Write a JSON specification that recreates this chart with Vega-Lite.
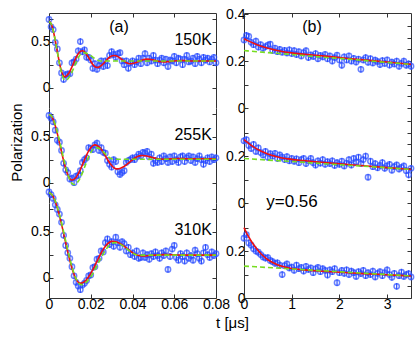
{
"$schema":"https://vega.github.io/schema/vega-lite/v6.json",
"padding":{"left":9,"top":7,"right":4,"bottom":2},
"config":{"font":"Liberation Sans","view":{"stroke":null},
 "axis":{"grid":false,"domainColor":"#333","tickColor":"#333","labelColor":"#000","labelFontSize":14,"labelFont":"Liberation Sans","tickSize":-4,"labelPadding":3,"labelFlush":false,"labelOverlap":false,"titleFont":"Liberation Sans","titleFontSize":15,"titleFontWeight":"normal","titleColor":"#000"}},
"datasets":{
"lab":[
{"b":"L1","k":"c","t":0.0335,"v":0.658,"s":"(a)"},
{"b":"L1","k":"r","t":0.078,"v":0.52,"s":"150K"},
{"b":"L2","k":"r","t":0.078,"v":0.52,"s":"255K"},
{"b":"L3","k":"r","t":0.078,"v":0.52,"s":"310K"},
{"b":"R1","k":"c","t":1.425,"v":0.345,"s":"(b)"},
{"b":"R2","k":"c","t":1.006,"v":0.004,"s":"y=0.56"}
],
"fit":[
{"b":"L1","m":"r","t":0,"v":0.72},{"b":"L1","m":"r","t":0.001,"v":0.694},{"b":"L1","m":"r","t":0.002,"v":0.621},{"b":"L1","m":"r","t":0.003,"v":0.513},{"b":"L1","m":"r","t":0.004,"v":0.389},{"b":"L1","m":"r","t":0.005,"v":0.27},{"b":"L1","m":"r","t":0.006,"v":0.177},{"b":"L1","m":"r","t":0.007,"v":0.127},{"b":"L1","m":"r","t":0.0075,"v":0.12},{"b":"L1","m":"r","t":0.008,"v":0.122},{"b":"L1","m":"r","t":0.009,"v":0.142},{"b":"L1","m":"r","t":0.010,"v":0.178},{"b":"L1","m":"r","t":0.011,"v":0.226},{"b":"L1","m":"r","t":0.012,"v":0.278},{"b":"L1","m":"r","t":0.013,"v":0.329},{"b":"L1","m":"r","t":0.014,"v":0.369},{"b":"L1","m":"r","t":0.015,"v":0.394},{"b":"L1","m":"r","t":0.016,"v":0.40},{"b":"L1","m":"r","t":0.017,"v":0.388},{"b":"L1","m":"r","t":0.018,"v":0.361},{"b":"L1","m":"r","t":0.019,"v":0.326},{"b":"L1","m":"r","t":0.020,"v":0.287},{"b":"L1","m":"r","t":0.021,"v":0.252},{"b":"L1","m":"r","t":0.022,"v":0.228},{"b":"L1","m":"r","t":0.023,"v":0.22},{"b":"L1","m":"r","t":0.024,"v":0.225},{"b":"L1","m":"r","t":0.025,"v":0.239},{"b":"L1","m":"r","t":0.026,"v":0.26},{"b":"L1","m":"r","t":0.027,"v":0.285},{"b":"L1","m":"r","t":0.028,"v":0.31},{"b":"L1","m":"r","t":0.029,"v":0.331},{"b":"L1","m":"r","t":0.030,"v":0.345},{"b":"L1","m":"r","t":0.031,"v":0.35},{"b":"L1","m":"r","t":0.032,"v":0.347},{"b":"L1","m":"r","t":0.033,"v":0.337},{"b":"L1","m":"r","t":0.034,"v":0.322},{"b":"L1","m":"r","t":0.035,"v":0.305},{"b":"L1","m":"r","t":0.036,"v":0.288},{"b":"L1","m":"r","t":0.037,"v":0.273},{"b":"L1","m":"r","t":0.038,"v":0.263},{"b":"L1","m":"r","t":0.039,"v":0.26},{"b":"L1","m":"r","t":0.041,"v":0.267},{"b":"L1","m":"r","t":0.043,"v":0.285},{"b":"L1","m":"r","t":0.045,"v":0.303},{"b":"L1","m":"r","t":0.047,"v":0.31},{"b":"L1","m":"r","t":0.049,"v":0.306},{"b":"L1","m":"r","t":0.051,"v":0.295},{"b":"L1","m":"r","t":0.053,"v":0.284},{"b":"L1","m":"r","t":0.055,"v":0.28},{"b":"L1","m":"r","t":0.057,"v":0.283},{"b":"L1","m":"r","t":0.059,"v":0.288},{"b":"L1","m":"r","t":0.061,"v":0.292},{"b":"L1","m":"r","t":0.063,"v":0.295},{"b":"L1","m":"r","t":0.065,"v":0.294},{"b":"L1","m":"r","t":0.068,"v":0.29},{"b":"L1","m":"r","t":0.072,"v":0.29},{"b":"L1","m":"r","t":0.076,"v":0.29},{"b":"L1","m":"r","t":0.08,"v":0.29},
{"b":"L1","m":"g","t":0,"v":0.72},{"b":"L1","m":"g","t":0.001,"v":0.694},{"b":"L1","m":"g","t":0.002,"v":0.622},{"b":"L1","m":"g","t":0.003,"v":0.513},{"b":"L1","m":"g","t":0.004,"v":0.387},{"b":"L1","m":"g","t":0.005,"v":0.262},{"b":"L1","m":"g","t":0.006,"v":0.16},{"b":"L1","m":"g","t":0.007,"v":0.097},{"b":"L1","m":"g","t":0.0078,"v":0.08},{"b":"L1","m":"g","t":0.009,"v":0.094},{"b":"L1","m":"g","t":0.010,"v":0.125},{"b":"L1","m":"g","t":0.011,"v":0.17},{"b":"L1","m":"g","t":0.012,"v":0.222},{"b":"L1","m":"g","t":0.013,"v":0.275},{"b":"L1","m":"g","t":0.014,"v":0.323},{"b":"L1","m":"g","t":0.015,"v":0.359},{"b":"L1","m":"g","t":0.016,"v":0.378},{"b":"L1","m":"g","t":0.0165,"v":0.38},{"b":"L1","m":"g","t":0.018,"v":0.373},{"b":"L1","m":"g","t":0.020,"v":0.348},{"b":"L1","m":"g","t":0.022,"v":0.315},{"b":"L1","m":"g","t":0.024,"v":0.293},{"b":"L1","m":"g","t":0.025,"v":0.29},{"b":"L1","m":"g","t":0.03,"v":0.29},{"b":"L1","m":"g","t":0.04,"v":0.29},{"b":"L1","m":"g","t":0.05,"v":0.29},{"b":"L1","m":"g","t":0.06,"v":0.29},{"b":"L1","m":"g","t":0.07,"v":0.29},{"b":"L1","m":"g","t":0.08,"v":0.29},
{"b":"L2","m":"r","t":0,"v":0.74},{"b":"L2","m":"r","t":0.001,"v":0.726},{"b":"L2","m":"r","t":0.002,"v":0.684},{"b":"L2","m":"r","t":0.003,"v":0.617},{"b":"L2","m":"r","t":0.004,"v":0.532},{"b":"L2","m":"r","t":0.005,"v":0.435},{"b":"L2","m":"r","t":0.006,"v":0.335},{"b":"L2","m":"r","t":0.007,"v":0.238},{"b":"L2","m":"r","t":0.008,"v":0.152},{"b":"L2","m":"r","t":0.009,"v":0.086},{"b":"L2","m":"r","t":0.010,"v":0.044},{"b":"L2","m":"r","t":0.011,"v":0.03},{"b":"L2","m":"r","t":0.012,"v":0.038},{"b":"L2","m":"r","t":0.013,"v":0.06},{"b":"L2","m":"r","t":0.014,"v":0.096},{"b":"L2","m":"r","t":0.015,"v":0.141},{"b":"L2","m":"r","t":0.016,"v":0.193},{"b":"L2","m":"r","t":0.017,"v":0.247},{"b":"L2","m":"r","t":0.018,"v":0.299},{"b":"L2","m":"r","t":0.019,"v":0.344},{"b":"L2","m":"r","t":0.020,"v":0.38},{"b":"L2","m":"r","t":0.021,"v":0.402},{"b":"L2","m":"r","t":0.022,"v":0.41},{"b":"L2","m":"r","t":0.023,"v":0.404},{"b":"L2","m":"r","t":0.024,"v":0.388},{"b":"L2","m":"r","t":0.025,"v":0.362},{"b":"L2","m":"r","t":0.026,"v":0.329},{"b":"L2","m":"r","t":0.027,"v":0.291},{"b":"L2","m":"r","t":0.028,"v":0.253},{"b":"L2","m":"r","t":0.029,"v":0.217},{"b":"L2","m":"r","t":0.030,"v":0.187},{"b":"L2","m":"r","t":0.031,"v":0.164},{"b":"L2","m":"r","t":0.032,"v":0.152},{"b":"L2","m":"r","t":0.0326,"v":0.15},{"b":"L2","m":"r","t":0.034,"v":0.155},{"b":"L2","m":"r","t":0.035,"v":0.164},{"b":"L2","m":"r","t":0.036,"v":0.177},{"b":"L2","m":"r","t":0.037,"v":0.194},{"b":"L2","m":"r","t":0.038,"v":0.211},{"b":"L2","m":"r","t":0.039,"v":0.23},{"b":"L2","m":"r","t":0.040,"v":0.249},{"b":"L2","m":"r","t":0.041,"v":0.265},{"b":"L2","m":"r","t":0.042,"v":0.279},{"b":"L2","m":"r","t":0.043,"v":0.289},{"b":"L2","m":"r","t":0.044,"v":0.294},{"b":"L2","m":"r","t":0.0446,"v":0.295},{"b":"L2","m":"r","t":0.046,"v":0.293},{"b":"L2","m":"r","t":0.048,"v":0.283},{"b":"L2","m":"r","t":0.050,"v":0.27},{"b":"L2","m":"r","t":0.052,"v":0.26},{"b":"L2","m":"r","t":0.055,"v":0.255},{"b":"L2","m":"r","t":0.058,"v":0.258},{"b":"L2","m":"r","t":0.062,"v":0.262},{"b":"L2","m":"r","t":0.066,"v":0.26},{"b":"L2","m":"r","t":0.07,"v":0.26},{"b":"L2","m":"r","t":0.075,"v":0.26},{"b":"L2","m":"r","t":0.08,"v":0.26},
{"b":"L2","m":"g","t":0,"v":0.74},{"b":"L2","m":"g","t":0.001,"v":0.727},{"b":"L2","m":"g","t":0.002,"v":0.689},{"b":"L2","m":"g","t":0.003,"v":0.629},{"b":"L2","m":"g","t":0.004,"v":0.55},{"b":"L2","m":"g","t":0.005,"v":0.458},{"b":"L2","m":"g","t":0.006,"v":0.36},{"b":"L2","m":"g","t":0.007,"v":0.262},{"b":"L2","m":"g","t":0.008,"v":0.17},{"b":"L2","m":"g","t":0.009,"v":0.091},{"b":"L2","m":"g","t":0.010,"v":0.031},{"b":"L2","m":"g","t":0.011,"v":-0.007},{"b":"L2","m":"g","t":0.012,"v":-0.02},{"b":"L2","m":"g","t":0.013,"v":-0.011},{"b":"L2","m":"g","t":0.014,"v":0.015},{"b":"L2","m":"g","t":0.015,"v":0.055},{"b":"L2","m":"g","t":0.016,"v":0.107},{"b":"L2","m":"g","t":0.017,"v":0.165},{"b":"L2","m":"g","t":0.018,"v":0.225},{"b":"L2","m":"g","t":0.019,"v":0.28},{"b":"L2","m":"g","t":0.020,"v":0.327},{"b":"L2","m":"g","t":0.021,"v":0.36},{"b":"L2","m":"g","t":0.022,"v":0.378},{"b":"L2","m":"g","t":0.0225,"v":0.38},{"b":"L2","m":"g","t":0.024,"v":0.371},{"b":"L2","m":"g","t":0.026,"v":0.335},{"b":"L2","m":"g","t":0.028,"v":0.29},{"b":"L2","m":"g","t":0.030,"v":0.259},{"b":"L2","m":"g","t":0.031,"v":0.255},{"b":"L2","m":"g","t":0.04,"v":0.255},{"b":"L2","m":"g","t":0.05,"v":0.255},{"b":"L2","m":"g","t":0.06,"v":0.255},{"b":"L2","m":"g","t":0.07,"v":0.255},{"b":"L2","m":"g","t":0.08,"v":0.255},
{"b":"L3","m":"r","t":0,"v":0.92},{"b":"L3","m":"r","t":0.001,"v":0.909},{"b":"L3","m":"r","t":0.002,"v":0.878},{"b":"L3","m":"r","t":0.003,"v":0.826},{"b":"L3","m":"r","t":0.004,"v":0.758},{"b":"L3","m":"r","t":0.005,"v":0.675},{"b":"L3","m":"r","t":0.006,"v":0.581},{"b":"L3","m":"r","t":0.007,"v":0.481},{"b":"L3","m":"r","t":0.008,"v":0.379},{"b":"L3","m":"r","t":0.009,"v":0.279},{"b":"L3","m":"r","t":0.010,"v":0.185},{"b":"L3","m":"r","t":0.011,"v":0.102},{"b":"L3","m":"r","t":0.012,"v":0.034},{"b":"L3","m":"r","t":0.013,"v":-0.018},{"b":"L3","m":"r","t":0.014,"v":-0.049},{"b":"L3","m":"r","t":0.015,"v":-0.06},{"b":"L3","m":"r","t":0.016,"v":-0.055},{"b":"L3","m":"r","t":0.017,"v":-0.042},{"b":"L3","m":"r","t":0.018,"v":-0.019},{"b":"L3","m":"r","t":0.019,"v":0.011},{"b":"L3","m":"r","t":0.020,"v":0.047},{"b":"L3","m":"r","t":0.021,"v":0.088},{"b":"L3","m":"r","t":0.022,"v":0.133},{"b":"L3","m":"r","t":0.023,"v":0.179},{"b":"L3","m":"r","t":0.024,"v":0.225},{"b":"L3","m":"r","t":0.025,"v":0.268},{"b":"L3","m":"r","t":0.026,"v":0.307},{"b":"L3","m":"r","t":0.027,"v":0.34},{"b":"L3","m":"r","t":0.028,"v":0.367},{"b":"L3","m":"r","t":0.029,"v":0.385},{"b":"L3","m":"r","t":0.030,"v":0.394},{"b":"L3","m":"r","t":0.0305,"v":0.395},{"b":"L3","m":"r","t":0.032,"v":0.39},{"b":"L3","m":"r","t":0.033,"v":0.383},{"b":"L3","m":"r","t":0.034,"v":0.372},{"b":"L3","m":"r","t":0.035,"v":0.358},{"b":"L3","m":"r","t":0.036,"v":0.341},{"b":"L3","m":"r","t":0.037,"v":0.324},{"b":"L3","m":"r","t":0.038,"v":0.306},{"b":"L3","m":"r","t":0.039,"v":0.289},{"b":"L3","m":"r","t":0.040,"v":0.272},{"b":"L3","m":"r","t":0.041,"v":0.258},{"b":"L3","m":"r","t":0.042,"v":0.247},{"b":"L3","m":"r","t":0.043,"v":0.24},{"b":"L3","m":"r","t":0.0445,"v":0.235},{"b":"L3","m":"r","t":0.048,"v":0.24},{"b":"L3","m":"r","t":0.052,"v":0.248},{"b":"L3","m":"r","t":0.056,"v":0.25},{"b":"L3","m":"r","t":0.06,"v":0.248},{"b":"L3","m":"r","t":0.065,"v":0.245},{"b":"L3","m":"r","t":0.07,"v":0.245},{"b":"L3","m":"r","t":0.075,"v":0.245},{"b":"L3","m":"r","t":0.08,"v":0.245},
{"b":"L3","m":"g","t":0,"v":0.92},{"b":"L3","m":"g","t":0.001,"v":0.91},{"b":"L3","m":"g","t":0.002,"v":0.88},{"b":"L3","m":"g","t":0.003,"v":0.831},{"b":"L3","m":"g","t":0.004,"v":0.765},{"b":"L3","m":"g","t":0.005,"v":0.686},{"b":"L3","m":"g","t":0.006,"v":0.596},{"b":"L3","m":"g","t":0.007,"v":0.498},{"b":"L3","m":"g","t":0.008,"v":0.398},{"b":"L3","m":"g","t":0.009,"v":0.298},{"b":"L3","m":"g","t":0.010,"v":0.204},{"b":"L3","m":"g","t":0.011,"v":0.118},{"b":"L3","m":"g","t":0.012,"v":0.045},{"b":"L3","m":"g","t":0.013,"v":-0.013},{"b":"L3","m":"g","t":0.014,"v":-0.052},{"b":"L3","m":"g","t":0.015,"v":-0.073},{"b":"L3","m":"g","t":0.0155,"v":-0.075},{"b":"L3","m":"g","t":0.017,"v":-0.065},{"b":"L3","m":"g","t":0.019,"v":-0.023},{"b":"L3","m":"g","t":0.021,"v":0.045},{"b":"L3","m":"g","t":0.023,"v":0.13},{"b":"L3","m":"g","t":0.025,"v":0.218},{"b":"L3","m":"g","t":0.027,"v":0.297},{"b":"L3","m":"g","t":0.029,"v":0.353},{"b":"L3","m":"g","t":0.031,"v":0.379},{"b":"L3","m":"g","t":0.0315,"v":0.38},{"b":"L3","m":"g","t":0.033,"v":0.374},{"b":"L3","m":"g","t":0.035,"v":0.351},{"b":"L3","m":"g","t":0.037,"v":0.317},{"b":"L3","m":"g","t":0.039,"v":0.282},{"b":"L3","m":"g","t":0.041,"v":0.255},{"b":"L3","m":"g","t":0.043,"v":0.245},{"b":"L3","m":"g","t":0.05,"v":0.245},{"b":"L3","m":"g","t":0.06,"v":0.245},{"b":"L3","m":"g","t":0.07,"v":0.245},{"b":"L3","m":"g","t":0.08,"v":0.245},
{"b":"R1","m":"r","t":0,"v":0.295},{"b":"R1","m":"r","t":0.05,"v":0.29},{"b":"R1","m":"r","t":0.1,"v":0.285},{"b":"R1","m":"r","t":0.2,"v":0.276},{"b":"R1","m":"r","t":0.3,"v":0.268},{"b":"R1","m":"r","t":0.4,"v":0.261},{"b":"R1","m":"r","t":0.5,"v":0.255},{"b":"R1","m":"r","t":0.6,"v":0.25},{"b":"R1","m":"r","t":0.7,"v":0.245},{"b":"R1","m":"r","t":0.8,"v":0.241},{"b":"R1","m":"r","t":0.9,"v":0.238},{"b":"R1","m":"r","t":1,"v":0.235},{"b":"R1","m":"r","t":1.5,"v":0.225},{"b":"R1","m":"r","t":2,"v":0.215},{"b":"R1","m":"r","t":2.5,"v":0.205},{"b":"R1","m":"r","t":3,"v":0.196},{"b":"R1","m":"r","t":3.5,"v":0.186},
{"b":"R1","m":"g","t":0,"v":0.245},{"b":"R1","m":"g","t":0.5,"v":0.236},{"b":"R1","m":"g","t":1,"v":0.228},{"b":"R1","m":"g","t":1.5,"v":0.219},{"b":"R1","m":"g","t":2,"v":0.211},{"b":"R1","m":"g","t":2.5,"v":0.203},{"b":"R1","m":"g","t":3,"v":0.194},{"b":"R1","m":"g","t":3.5,"v":0.186},
{"b":"R2","m":"r","t":0,"v":0.27},{"b":"R2","m":"r","t":0.05,"v":0.262},{"b":"R2","m":"r","t":0.1,"v":0.254},{"b":"R2","m":"r","t":0.15,"v":0.246},{"b":"R2","m":"r","t":0.2,"v":0.239},{"b":"R2","m":"r","t":0.25,"v":0.233},{"b":"R2","m":"r","t":0.3,"v":0.227},{"b":"R2","m":"r","t":0.35,"v":0.222},{"b":"R2","m":"r","t":0.4,"v":0.217},{"b":"R2","m":"r","t":0.5,"v":0.209},{"b":"R2","m":"r","t":0.6,"v":0.202},{"b":"R2","m":"r","t":0.7,"v":0.197},{"b":"R2","m":"r","t":0.8,"v":0.192},{"b":"R2","m":"r","t":0.9,"v":0.189},{"b":"R2","m":"r","t":1,"v":0.186},{"b":"R2","m":"r","t":1.25,"v":0.181},{"b":"R2","m":"r","t":1.5,"v":0.176},{"b":"R2","m":"r","t":2,"v":0.167},{"b":"R2","m":"r","t":2.5,"v":0.159},{"b":"R2","m":"r","t":3,"v":0.151},{"b":"R2","m":"r","t":3.5,"v":0.143},
{"b":"R2","m":"g","t":0,"v":0.19},{"b":"R2","m":"g","t":0.5,"v":0.183},{"b":"R2","m":"g","t":1,"v":0.177},{"b":"R2","m":"g","t":1.5,"v":0.17},{"b":"R2","m":"g","t":2,"v":0.163},{"b":"R2","m":"g","t":2.5,"v":0.157},{"b":"R2","m":"g","t":3,"v":0.15},{"b":"R2","m":"g","t":3.5,"v":0.143},
{"b":"R3","m":"r","t":0,"v":0.30},{"b":"R3","m":"r","t":0.05,"v":0.279},{"b":"R3","m":"r","t":0.1,"v":0.26},{"b":"R3","m":"r","t":0.15,"v":0.243},{"b":"R3","m":"r","t":0.2,"v":0.228},{"b":"R3","m":"r","t":0.25,"v":0.214},{"b":"R3","m":"r","t":0.3,"v":0.201},{"b":"R3","m":"r","t":0.35,"v":0.19},{"b":"R3","m":"r","t":0.4,"v":0.18},{"b":"R3","m":"r","t":0.45,"v":0.171},{"b":"R3","m":"r","t":0.5,"v":0.163},{"b":"R3","m":"r","t":0.6,"v":0.151},{"b":"R3","m":"r","t":0.7,"v":0.142},{"b":"R3","m":"r","t":0.8,"v":0.135},{"b":"R3","m":"r","t":0.9,"v":0.13},{"b":"R3","m":"r","t":1,"v":0.126},{"b":"R3","m":"r","t":1.25,"v":0.12},{"b":"R3","m":"r","t":1.5,"v":0.116},{"b":"R3","m":"r","t":2,"v":0.11},{"b":"R3","m":"r","t":2.5,"v":0.104},{"b":"R3","m":"r","t":3,"v":0.099},{"b":"R3","m":"r","t":3.5,"v":0.094},
{"b":"R3","m":"g","t":0,"v":0.136},{"b":"R3","m":"g","t":0.5,"v":0.13},{"b":"R3","m":"g","t":1,"v":0.124},{"b":"R3","m":"g","t":1.5,"v":0.118},{"b":"R3","m":"g","t":2,"v":0.112},{"b":"R3","m":"g","t":2.5,"v":0.106},{"b":"R3","m":"g","t":3,"v":0.1},{"b":"R3","m":"g","t":3.5,"v":0.094}
],
"pts":[
{"b":"L1","t":0.000,"v":0.74,"e":0.035},{"b":"L1","t":0.001,"v":0.66,"e":0.035},{"b":"L1","t":0.002,"v":0.63,"e":0.035},{"b":"L1","t":0.003,"v":0.49,"e":0.035},{"b":"L1","t":0.004,"v":0.42,"e":0.035},{"b":"L1","t":0.005,"v":0.27,"e":0.035},{"b":"L1","t":0.006,"v":0.16,"e":0.035},{"b":"L1","t":0.007,"v":0.09,"e":0.035},{"b":"L1","t":0.008,"v":0.14,"e":0.035},{"b":"L1","t":0.009,"v":0.15,"e":0.035},{"b":"L1","t":0.010,"v":0.15,"e":0.035},{"b":"L1","t":0.011,"v":0.27,"e":0.035},{"b":"L1","t":0.012,"v":0.28,"e":0.035},{"b":"L1","t":0.013,"v":0.31,"e":0.035},{"b":"L1","t":0.014,"v":0.40,"e":0.035},{"b":"L1","t":0.015,"v":0.50,"e":0.035},{"b":"L1","t":0.016,"v":0.39,"e":0.035},{"b":"L1","t":0.017,"v":0.41,"e":0.035},{"b":"L1","t":0.018,"v":0.33,"e":0.035},{"b":"L1","t":0.019,"v":0.33,"e":0.035},{"b":"L1","t":0.020,"v":0.30,"e":0.035},{"b":"L1","t":0.021,"v":0.21,"e":0.035},{"b":"L1","t":0.022,"v":0.26,"e":0.035},{"b":"L1","t":0.023,"v":0.20,"e":0.035},{"b":"L1","t":0.024,"v":0.24,"e":0.035},{"b":"L1","t":0.025,"v":0.29,"e":0.035},{"b":"L1","t":0.026,"v":0.23,"e":0.035},{"b":"L1","t":0.027,"v":0.29,"e":0.035},{"b":"L1","t":0.028,"v":0.24,"e":0.035},{"b":"L1","t":0.029,"v":0.35,"e":0.035},{"b":"L1","t":0.030,"v":0.39,"e":0.035},{"b":"L1","t":0.031,"v":0.36,"e":0.035},{"b":"L1","t":0.032,"v":0.33,"e":0.035},{"b":"L1","t":0.033,"v":0.37,"e":0.035},{"b":"L1","t":0.034,"v":0.38,"e":0.035},{"b":"L1","t":0.035,"v":0.29,"e":0.035},{"b":"L1","t":0.036,"v":0.25,"e":0.035},{"b":"L1","t":0.037,"v":0.29,"e":0.035},{"b":"L1","t":0.038,"v":0.21,"e":0.035},{"b":"L1","t":0.039,"v":0.27,"e":0.035},{"b":"L1","t":0.040,"v":0.29,"e":0.035},{"b":"L1","t":0.041,"v":0.25,"e":0.035},{"b":"L1","t":0.042,"v":0.28,"e":0.035},{"b":"L1","t":0.043,"v":0.32,"e":0.035},{"b":"L1","t":0.044,"v":0.26,"e":0.035},{"b":"L1","t":0.045,"v":0.32,"e":0.035},{"b":"L1","t":0.046,"v":0.37,"e":0.035},{"b":"L1","t":0.047,"v":0.27,"e":0.035},{"b":"L1","t":0.048,"v":0.32,"e":0.035},{"b":"L1","t":0.049,"v":0.29,"e":0.035},{"b":"L1","t":0.050,"v":0.35,"e":0.035},{"b":"L1","t":0.051,"v":0.30,"e":0.035},{"b":"L1","t":0.052,"v":0.26,"e":0.035},{"b":"L1","t":0.053,"v":0.30,"e":0.035},{"b":"L1","t":0.054,"v":0.32,"e":0.035},{"b":"L1","t":0.055,"v":0.27,"e":0.035},{"b":"L1","t":0.056,"v":0.31,"e":0.035},{"b":"L1","t":0.057,"v":0.23,"e":0.035},{"b":"L1","t":0.058,"v":0.30,"e":0.035},{"b":"L1","t":0.059,"v":0.29,"e":0.035},{"b":"L1","t":0.060,"v":0.34,"e":0.035},{"b":"L1","t":0.061,"v":0.27,"e":0.035},{"b":"L1","t":0.062,"v":0.32,"e":0.035},{"b":"L1","t":0.063,"v":0.31,"e":0.035},{"b":"L1","t":0.064,"v":0.25,"e":0.035},{"b":"L1","t":0.065,"v":0.31,"e":0.035},{"b":"L1","t":0.066,"v":0.35,"e":0.035},{"b":"L1","t":0.067,"v":0.28,"e":0.035},{"b":"L1","t":0.068,"v":0.29,"e":0.035},{"b":"L1","t":0.069,"v":0.32,"e":0.035},{"b":"L1","t":0.070,"v":0.26,"e":0.035},{"b":"L1","t":0.071,"v":0.34,"e":0.035},{"b":"L1","t":0.072,"v":0.31,"e":0.035},{"b":"L1","t":0.073,"v":0.27,"e":0.035},{"b":"L1","t":0.074,"v":0.33,"e":0.035},{"b":"L1","t":0.075,"v":0.30,"e":0.035},{"b":"L1","t":0.076,"v":0.32,"e":0.035},{"b":"L1","t":0.077,"v":0.28,"e":0.035},{"b":"L1","t":0.078,"v":0.31,"e":0.035},{"b":"L1","t":0.079,"v":0.33,"e":0.035},{"b":"L1","t":0.080,"v":0.27,"e":0.035},
{"b":"L2","t":0.000,"v":0.73,"e":0.035},{"b":"L2","t":0.001,"v":0.70,"e":0.035},{"b":"L2","t":0.002,"v":0.66,"e":0.035},{"b":"L2","t":0.003,"v":0.57,"e":0.035},{"b":"L2","t":0.004,"v":0.46,"e":0.035},{"b":"L2","t":0.005,"v":0.44,"e":0.035},{"b":"L2","t":0.006,"v":0.35,"e":0.035},{"b":"L2","t":0.007,"v":0.21,"e":0.035},{"b":"L2","t":0.008,"v":0.14,"e":0.035},{"b":"L2","t":0.009,"v":0.11,"e":0.035},{"b":"L2","t":0.010,"v":0.04,"e":0.035},{"b":"L2","t":0.011,"v":0.05,"e":0.035},{"b":"L2","t":0.012,"v":0.00,"e":0.035},{"b":"L2","t":0.013,"v":0.07,"e":0.035},{"b":"L2","t":0.014,"v":0.08,"e":0.035},{"b":"L2","t":0.015,"v":0.13,"e":0.035},{"b":"L2","t":0.016,"v":0.22,"e":0.035},{"b":"L2","t":0.017,"v":0.25,"e":0.035},{"b":"L2","t":0.018,"v":0.27,"e":0.035},{"b":"L2","t":0.019,"v":0.38,"e":0.035},{"b":"L2","t":0.020,"v":0.37,"e":0.035},{"b":"L2","t":0.021,"v":0.36,"e":0.035},{"b":"L2","t":0.022,"v":0.41,"e":0.035},{"b":"L2","t":0.023,"v":0.43,"e":0.035},{"b":"L2","t":0.024,"v":0.35,"e":0.035},{"b":"L2","t":0.025,"v":0.38,"e":0.035},{"b":"L2","t":0.026,"v":0.33,"e":0.035},{"b":"L2","t":0.027,"v":0.32,"e":0.035},{"b":"L2","t":0.028,"v":0.24,"e":0.035},{"b":"L2","t":0.029,"v":0.20,"e":0.035},{"b":"L2","t":0.030,"v":0.17,"e":0.035},{"b":"L2","t":0.031,"v":0.25,"e":0.035},{"b":"L2","t":0.032,"v":0.23,"e":0.035},{"b":"L2","t":0.033,"v":0.12,"e":0.035},{"b":"L2","t":0.034,"v":0.09,"e":0.035},{"b":"L2","t":0.035,"v":0.11,"e":0.035},{"b":"L2","t":0.036,"v":0.13,"e":0.035},{"b":"L2","t":0.037,"v":0.22,"e":0.035},{"b":"L2","t":0.038,"v":0.24,"e":0.035},{"b":"L2","t":0.039,"v":0.25,"e":0.035},{"b":"L2","t":0.040,"v":0.27,"e":0.035},{"b":"L2","t":0.041,"v":0.25,"e":0.035},{"b":"L2","t":0.042,"v":0.28,"e":0.035},{"b":"L2","t":0.043,"v":0.31,"e":0.035},{"b":"L2","t":0.044,"v":0.29,"e":0.035},{"b":"L2","t":0.045,"v":0.33,"e":0.035},{"b":"L2","t":0.046,"v":0.32,"e":0.035},{"b":"L2","t":0.047,"v":0.34,"e":0.035},{"b":"L2","t":0.048,"v":0.28,"e":0.035},{"b":"L2","t":0.049,"v":0.31,"e":0.035},{"b":"L2","t":0.050,"v":0.21,"e":0.035},{"b":"L2","t":0.051,"v":0.24,"e":0.035},{"b":"L2","t":0.052,"v":0.22,"e":0.035},{"b":"L2","t":0.053,"v":0.27,"e":0.035},{"b":"L2","t":0.054,"v":0.23,"e":0.035},{"b":"L2","t":0.055,"v":0.29,"e":0.035},{"b":"L2","t":0.056,"v":0.26,"e":0.035},{"b":"L2","t":0.057,"v":0.22,"e":0.035},{"b":"L2","t":0.058,"v":0.28,"e":0.035},{"b":"L2","t":0.059,"v":0.23,"e":0.035},{"b":"L2","t":0.060,"v":0.29,"e":0.035},{"b":"L2","t":0.061,"v":0.25,"e":0.035},{"b":"L2","t":0.062,"v":0.22,"e":0.035},{"b":"L2","t":0.063,"v":0.28,"e":0.035},{"b":"L2","t":0.064,"v":0.29,"e":0.035},{"b":"L2","t":0.065,"v":0.23,"e":0.035},{"b":"L2","t":0.066,"v":0.27,"e":0.035},{"b":"L2","t":0.067,"v":0.29,"e":0.035},{"b":"L2","t":0.068,"v":0.24,"e":0.035},{"b":"L2","t":0.069,"v":0.28,"e":0.035},{"b":"L2","t":0.070,"v":0.22,"e":0.035},{"b":"L2","t":0.071,"v":0.26,"e":0.035},{"b":"L2","t":0.072,"v":0.29,"e":0.035},{"b":"L2","t":0.073,"v":0.25,"e":0.035},{"b":"L2","t":0.074,"v":0.20,"e":0.035},{"b":"L2","t":0.075,"v":0.24,"e":0.035},{"b":"L2","t":0.076,"v":0.27,"e":0.035},{"b":"L2","t":0.077,"v":0.23,"e":0.035},{"b":"L2","t":0.078,"v":0.28,"e":0.035},{"b":"L2","t":0.079,"v":0.25,"e":0.035},{"b":"L2","t":0.080,"v":0.27,"e":0.035},
{"b":"L3","t":0.000,"v":0.93,"e":0.035},{"b":"L3","t":0.001,"v":0.90,"e":0.035},{"b":"L3","t":0.002,"v":0.86,"e":0.035},{"b":"L3","t":0.003,"v":0.79,"e":0.035},{"b":"L3","t":0.004,"v":0.74,"e":0.035},{"b":"L3","t":0.005,"v":0.69,"e":0.035},{"b":"L3","t":0.006,"v":0.60,"e":0.035},{"b":"L3","t":0.007,"v":0.46,"e":0.035},{"b":"L3","t":0.008,"v":0.35,"e":0.035},{"b":"L3","t":0.009,"v":0.27,"e":0.035},{"b":"L3","t":0.010,"v":0.21,"e":0.035},{"b":"L3","t":0.011,"v":0.12,"e":0.035},{"b":"L3","t":0.012,"v":0.02,"e":0.035},{"b":"L3","t":0.013,"v":-0.05,"e":0.035},{"b":"L3","t":0.014,"v":-0.09,"e":0.035},{"b":"L3","t":0.015,"v":-0.13,"e":0.035},{"b":"L3","t":0.016,"v":-0.08,"e":0.035},{"b":"L3","t":0.017,"v":-0.06,"e":0.035},{"b":"L3","t":0.018,"v":-0.03,"e":0.035},{"b":"L3","t":0.019,"v":0.02,"e":0.035},{"b":"L3","t":0.020,"v":0.03,"e":0.035},{"b":"L3","t":0.021,"v":0.11,"e":0.035},{"b":"L3","t":0.022,"v":0.12,"e":0.035},{"b":"L3","t":0.023,"v":0.20,"e":0.035},{"b":"L3","t":0.024,"v":0.21,"e":0.035},{"b":"L3","t":0.025,"v":0.29,"e":0.035},{"b":"L3","t":0.026,"v":0.28,"e":0.035},{"b":"L3","t":0.027,"v":0.38,"e":0.035},{"b":"L3","t":0.028,"v":0.42,"e":0.035},{"b":"L3","t":0.029,"v":0.36,"e":0.035},{"b":"L3","t":0.030,"v":0.39,"e":0.035},{"b":"L3","t":0.031,"v":0.34,"e":0.035},{"b":"L3","t":0.032,"v":0.44,"e":0.035},{"b":"L3","t":0.033,"v":0.38,"e":0.035},{"b":"L3","t":0.034,"v":0.33,"e":0.035},{"b":"L3","t":0.035,"v":0.39,"e":0.035},{"b":"L3","t":0.036,"v":0.37,"e":0.035},{"b":"L3","t":0.037,"v":0.29,"e":0.035},{"b":"L3","t":0.038,"v":0.33,"e":0.035},{"b":"L3","t":0.039,"v":0.25,"e":0.035},{"b":"L3","t":0.040,"v":0.27,"e":0.035},{"b":"L3","t":0.041,"v":0.23,"e":0.035},{"b":"L3","t":0.042,"v":0.29,"e":0.035},{"b":"L3","t":0.043,"v":0.21,"e":0.035},{"b":"L3","t":0.044,"v":0.22,"e":0.035},{"b":"L3","t":0.045,"v":0.27,"e":0.035},{"b":"L3","t":0.046,"v":0.22,"e":0.035},{"b":"L3","t":0.047,"v":0.25,"e":0.035},{"b":"L3","t":0.048,"v":0.20,"e":0.035},{"b":"L3","t":0.049,"v":0.26,"e":0.035},{"b":"L3","t":0.050,"v":0.23,"e":0.035},{"b":"L3","t":0.051,"v":0.28,"e":0.035},{"b":"L3","t":0.052,"v":0.24,"e":0.035},{"b":"L3","t":0.053,"v":0.21,"e":0.035},{"b":"L3","t":0.054,"v":0.27,"e":0.035},{"b":"L3","t":0.055,"v":0.24,"e":0.035},{"b":"L3","t":0.056,"v":0.29,"e":0.035},{"b":"L3","t":0.057,"v":0.09,"e":0.035},{"b":"L3","t":0.058,"v":0.23,"e":0.035},{"b":"L3","t":0.059,"v":0.31,"e":0.035},{"b":"L3","t":0.060,"v":0.35,"e":0.035},{"b":"L3","t":0.061,"v":0.22,"e":0.035},{"b":"L3","t":0.062,"v":0.19,"e":0.035},{"b":"L3","t":0.063,"v":0.26,"e":0.035},{"b":"L3","t":0.064,"v":0.23,"e":0.035},{"b":"L3","t":0.065,"v":0.18,"e":0.035},{"b":"L3","t":0.066,"v":0.27,"e":0.035},{"b":"L3","t":0.067,"v":0.21,"e":0.035},{"b":"L3","t":0.068,"v":0.24,"e":0.035},{"b":"L3","t":0.069,"v":0.19,"e":0.035},{"b":"L3","t":0.070,"v":0.30,"e":0.035},{"b":"L3","t":0.071,"v":0.26,"e":0.035},{"b":"L3","t":0.072,"v":0.21,"e":0.035},{"b":"L3","t":0.073,"v":0.18,"e":0.035},{"b":"L3","t":0.074,"v":0.27,"e":0.035},{"b":"L3","t":0.075,"v":0.33,"e":0.035},{"b":"L3","t":0.076,"v":0.25,"e":0.035},{"b":"L3","t":0.077,"v":0.22,"e":0.035},{"b":"L3","t":0.078,"v":0.28,"e":0.035},{"b":"L3","t":0.079,"v":0.24,"e":0.035},{"b":"L3","t":0.080,"v":0.26,"e":0.035},
{"b":"R1","t":0.00,"v":0.29,"e":0.014},{"b":"R1","t":0.05,"v":0.31,"e":0.014},{"b":"R1","t":0.10,"v":0.305,"e":0.014},{"b":"R1","t":0.15,"v":0.28,"e":0.014},{"b":"R1","t":0.20,"v":0.27,"e":0.014},{"b":"R1","t":0.25,"v":0.285,"e":0.014},{"b":"R1","t":0.30,"v":0.26,"e":0.014},{"b":"R1","t":0.35,"v":0.27,"e":0.014},{"b":"R1","t":0.40,"v":0.255,"e":0.014},{"b":"R1","t":0.45,"v":0.262,"e":0.014},{"b":"R1","t":0.50,"v":0.268,"e":0.014},{"b":"R1","t":0.55,"v":0.272,"e":0.014},{"b":"R1","t":0.60,"v":0.245,"e":0.014},{"b":"R1","t":0.65,"v":0.255,"e":0.014},{"b":"R1","t":0.70,"v":0.24,"e":0.014},{"b":"R1","t":0.75,"v":0.25,"e":0.014},{"b":"R1","t":0.80,"v":0.238,"e":0.014},{"b":"R1","t":0.85,"v":0.246,"e":0.014},{"b":"R1","t":0.90,"v":0.235,"e":0.014},{"b":"R1","t":0.95,"v":0.248,"e":0.014},{"b":"R1","t":1.00,"v":0.232,"e":0.014},{"b":"R1","t":1.05,"v":0.245,"e":0.014},{"b":"R1","t":1.10,"v":0.228,"e":0.014},{"b":"R1","t":1.15,"v":0.24,"e":0.014},{"b":"R1","t":1.20,"v":0.222,"e":0.014},{"b":"R1","t":1.25,"v":0.236,"e":0.014},{"b":"R1","t":1.30,"v":0.244,"e":0.014},{"b":"R1","t":1.35,"v":0.215,"e":0.014},{"b":"R1","t":1.40,"v":0.226,"e":0.014},{"b":"R1","t":1.45,"v":0.22,"e":0.014},{"b":"R1","t":1.50,"v":0.232,"e":0.014},{"b":"R1","t":1.55,"v":0.21,"e":0.014},{"b":"R1","t":1.60,"v":0.224,"e":0.014},{"b":"R1","t":1.65,"v":0.218,"e":0.014},{"b":"R1","t":1.70,"v":0.228,"e":0.014},{"b":"R1","t":1.75,"v":0.21,"e":0.014},{"b":"R1","t":1.80,"v":0.222,"e":0.014},{"b":"R1","t":1.85,"v":0.2,"e":0.014},{"b":"R1","t":1.90,"v":0.215,"e":0.014},{"b":"R1","t":1.95,"v":0.225,"e":0.014},{"b":"R1","t":2.00,"v":0.205,"e":0.014},{"b":"R1","t":2.05,"v":0.182,"e":0.014},{"b":"R1","t":2.10,"v":0.218,"e":0.014},{"b":"R1","t":2.15,"v":0.205,"e":0.014},{"b":"R1","t":2.20,"v":0.222,"e":0.014},{"b":"R1","t":2.25,"v":0.2,"e":0.014},{"b":"R1","t":2.30,"v":0.212,"e":0.014},{"b":"R1","t":2.35,"v":0.196,"e":0.014},{"b":"R1","t":2.40,"v":0.208,"e":0.014},{"b":"R1","t":2.45,"v":0.165,"e":0.014},{"b":"R1","t":2.50,"v":0.205,"e":0.014},{"b":"R1","t":2.55,"v":0.215,"e":0.014},{"b":"R1","t":2.60,"v":0.195,"e":0.014},{"b":"R1","t":2.65,"v":0.21,"e":0.014},{"b":"R1","t":2.70,"v":0.192,"e":0.014},{"b":"R1","t":2.75,"v":0.204,"e":0.014},{"b":"R1","t":2.80,"v":0.198,"e":0.014},{"b":"R1","t":2.85,"v":0.185,"e":0.014},{"b":"R1","t":2.90,"v":0.202,"e":0.014},{"b":"R1","t":2.95,"v":0.19,"e":0.014},{"b":"R1","t":3.00,"v":0.205,"e":0.014},{"b":"R1","t":3.05,"v":0.183,"e":0.014},{"b":"R1","t":3.10,"v":0.196,"e":0.014},{"b":"R1","t":3.15,"v":0.188,"e":0.014},{"b":"R1","t":3.20,"v":0.2,"e":0.014},{"b":"R1","t":3.25,"v":0.178,"e":0.014},{"b":"R1","t":3.30,"v":0.19,"e":0.014},{"b":"R1","t":3.35,"v":0.2,"e":0.014},{"b":"R1","t":3.40,"v":0.182,"e":0.014},{"b":"R1","t":3.45,"v":0.188,"e":0.014},{"b":"R1","t":3.50,"v":0.178,"e":0.014},
{"b":"R2","t":0.00,"v":0.265,"e":0.014},{"b":"R2","t":0.05,"v":0.27,"e":0.014},{"b":"R2","t":0.10,"v":0.245,"e":0.014},{"b":"R2","t":0.15,"v":0.232,"e":0.014},{"b":"R2","t":0.20,"v":0.25,"e":0.014},{"b":"R2","t":0.25,"v":0.22,"e":0.014},{"b":"R2","t":0.30,"v":0.235,"e":0.014},{"b":"R2","t":0.35,"v":0.215,"e":0.014},{"b":"R2","t":0.40,"v":0.205,"e":0.014},{"b":"R2","t":0.45,"v":0.22,"e":0.014},{"b":"R2","t":0.50,"v":0.195,"e":0.014},{"b":"R2","t":0.55,"v":0.21,"e":0.014},{"b":"R2","t":0.60,"v":0.2,"e":0.014},{"b":"R2","t":0.65,"v":0.212,"e":0.014},{"b":"R2","t":0.70,"v":0.19,"e":0.014},{"b":"R2","t":0.75,"v":0.205,"e":0.014},{"b":"R2","t":0.80,"v":0.196,"e":0.014},{"b":"R2","t":0.85,"v":0.185,"e":0.014},{"b":"R2","t":0.90,"v":0.198,"e":0.014},{"b":"R2","t":0.95,"v":0.18,"e":0.014},{"b":"R2","t":1.00,"v":0.19,"e":0.014},{"b":"R2","t":1.05,"v":0.178,"e":0.014},{"b":"R2","t":1.10,"v":0.188,"e":0.014},{"b":"R2","t":1.15,"v":0.172,"e":0.014},{"b":"R2","t":1.20,"v":0.185,"e":0.014},{"b":"R2","t":1.25,"v":0.19,"e":0.014},{"b":"R2","t":1.30,"v":0.168,"e":0.014},{"b":"R2","t":1.35,"v":0.18,"e":0.014},{"b":"R2","t":1.40,"v":0.19,"e":0.014},{"b":"R2","t":1.45,"v":0.172,"e":0.014},{"b":"R2","t":1.50,"v":0.162,"e":0.014},{"b":"R2","t":1.55,"v":0.18,"e":0.014},{"b":"R2","t":1.60,"v":0.17,"e":0.014},{"b":"R2","t":1.65,"v":0.185,"e":0.014},{"b":"R2","t":1.70,"v":0.165,"e":0.014},{"b":"R2","t":1.75,"v":0.176,"e":0.014},{"b":"R2","t":1.80,"v":0.168,"e":0.014},{"b":"R2","t":1.85,"v":0.18,"e":0.014},{"b":"R2","t":1.90,"v":0.16,"e":0.014},{"b":"R2","t":1.95,"v":0.172,"e":0.014},{"b":"R2","t":2.00,"v":0.165,"e":0.014},{"b":"R2","t":2.05,"v":0.178,"e":0.014},{"b":"R2","t":2.10,"v":0.158,"e":0.014},{"b":"R2","t":2.15,"v":0.17,"e":0.014},{"b":"R2","t":2.20,"v":0.185,"e":0.014},{"b":"R2","t":2.25,"v":0.162,"e":0.014},{"b":"R2","t":2.30,"v":0.19,"e":0.014},{"b":"R2","t":2.35,"v":0.175,"e":0.014},{"b":"R2","t":2.40,"v":0.195,"e":0.014},{"b":"R2","t":2.45,"v":0.168,"e":0.014},{"b":"R2","t":2.50,"v":0.185,"e":0.014},{"b":"R2","t":2.55,"v":0.2,"e":0.014},{"b":"R2","t":2.60,"v":0.11,"e":0.014},{"b":"R2","t":2.65,"v":0.178,"e":0.014},{"b":"R2","t":2.70,"v":0.155,"e":0.014},{"b":"R2","t":2.75,"v":0.168,"e":0.014},{"b":"R2","t":2.80,"v":0.15,"e":0.014},{"b":"R2","t":2.85,"v":0.16,"e":0.014},{"b":"R2","t":2.90,"v":0.172,"e":0.014},{"b":"R2","t":2.95,"v":0.148,"e":0.014},{"b":"R2","t":3.00,"v":0.158,"e":0.014},{"b":"R2","t":3.05,"v":0.165,"e":0.014},{"b":"R2","t":3.10,"v":0.14,"e":0.014},{"b":"R2","t":3.15,"v":0.155,"e":0.014},{"b":"R2","t":3.20,"v":0.162,"e":0.014},{"b":"R2","t":3.25,"v":0.145,"e":0.014},{"b":"R2","t":3.30,"v":0.152,"e":0.014},{"b":"R2","t":3.35,"v":0.158,"e":0.014},{"b":"R2","t":3.40,"v":0.138,"e":0.014},{"b":"R2","t":3.45,"v":0.12,"e":0.014},{"b":"R2","t":3.50,"v":0.148,"e":0.014},
{"b":"R3","t":0.00,"v":0.255,"e":0.014},{"b":"R3","t":0.05,"v":0.27,"e":0.014},{"b":"R3","t":0.10,"v":0.235,"e":0.014},{"b":"R3","t":0.15,"v":0.225,"e":0.014},{"b":"R3","t":0.20,"v":0.21,"e":0.014},{"b":"R3","t":0.25,"v":0.2,"e":0.014},{"b":"R3","t":0.30,"v":0.195,"e":0.014},{"b":"R3","t":0.35,"v":0.185,"e":0.014},{"b":"R3","t":0.40,"v":0.175,"e":0.014},{"b":"R3","t":0.45,"v":0.17,"e":0.014},{"b":"R3","t":0.50,"v":0.172,"e":0.014},{"b":"R3","t":0.55,"v":0.16,"e":0.014},{"b":"R3","t":0.60,"v":0.155,"e":0.014},{"b":"R3","t":0.65,"v":0.148,"e":0.014},{"b":"R3","t":0.70,"v":0.15,"e":0.014},{"b":"R3","t":0.75,"v":0.14,"e":0.014},{"b":"R3","t":0.80,"v":0.1,"e":0.014},{"b":"R3","t":0.85,"v":0.138,"e":0.014},{"b":"R3","t":0.90,"v":0.145,"e":0.014},{"b":"R3","t":0.95,"v":0.128,"e":0.014},{"b":"R3","t":1.00,"v":0.132,"e":0.014},{"b":"R3","t":1.05,"v":0.118,"e":0.014},{"b":"R3","t":1.10,"v":0.14,"e":0.014},{"b":"R3","t":1.15,"v":0.125,"e":0.014},{"b":"R3","t":1.20,"v":0.13,"e":0.014},{"b":"R3","t":1.25,"v":0.115,"e":0.014},{"b":"R3","t":1.30,"v":0.135,"e":0.014},{"b":"R3","t":1.35,"v":0.122,"e":0.014},{"b":"R3","t":1.40,"v":0.128,"e":0.014},{"b":"R3","t":1.45,"v":0.108,"e":0.014},{"b":"R3","t":1.50,"v":0.124,"e":0.014},{"b":"R3","t":1.55,"v":0.13,"e":0.014},{"b":"R3","t":1.60,"v":0.112,"e":0.014},{"b":"R3","t":1.65,"v":0.125,"e":0.014},{"b":"R3","t":1.70,"v":0.118,"e":0.014},{"b":"R3","t":1.75,"v":0.098,"e":0.014},{"b":"R3","t":1.80,"v":0.12,"e":0.014},{"b":"R3","t":1.85,"v":0.112,"e":0.014},{"b":"R3","t":1.90,"v":0.125,"e":0.014},{"b":"R3","t":1.95,"v":0.065,"e":0.014},{"b":"R3","t":2.00,"v":0.108,"e":0.014},{"b":"R3","t":2.05,"v":0.118,"e":0.014},{"b":"R3","t":2.10,"v":0.105,"e":0.014},{"b":"R3","t":2.15,"v":0.12,"e":0.014},{"b":"R3","t":2.20,"v":0.1,"e":0.014},{"b":"R3","t":2.25,"v":0.115,"e":0.014},{"b":"R3","t":2.30,"v":0.108,"e":0.014},{"b":"R3","t":2.35,"v":0.092,"e":0.014},{"b":"R3","t":2.40,"v":0.112,"e":0.014},{"b":"R3","t":2.45,"v":0.104,"e":0.014},{"b":"R3","t":2.50,"v":0.118,"e":0.014},{"b":"R3","t":2.55,"v":0.095,"e":0.014},{"b":"R3","t":2.60,"v":0.108,"e":0.014},{"b":"R3","t":2.65,"v":0.1,"e":0.014},{"b":"R3","t":2.70,"v":0.115,"e":0.014},{"b":"R3","t":2.75,"v":0.09,"e":0.014},{"b":"R3","t":2.80,"v":0.105,"e":0.014},{"b":"R3","t":2.85,"v":0.112,"e":0.014},{"b":"R3","t":2.90,"v":0.095,"e":0.014},{"b":"R3","t":2.95,"v":0.108,"e":0.014},{"b":"R3","t":3.00,"v":0.12,"e":0.014},{"b":"R3","t":3.05,"v":0.1,"e":0.014},{"b":"R3","t":3.10,"v":0.088,"e":0.014},{"b":"R3","t":3.15,"v":0.105,"e":0.014},{"b":"R3","t":3.20,"v":0.05,"e":0.014},{"b":"R3","t":3.25,"v":0.095,"e":0.014},{"b":"R3","t":3.30,"v":0.11,"e":0.014},{"b":"R3","t":3.35,"v":0.092,"e":0.014},{"b":"R3","t":3.40,"v":0.1,"e":0.014},{"b":"R3","t":3.45,"v":0.104,"e":0.014},{"b":"R3","t":3.50,"v":0.09,"e":0.014}
]},
"columns":2,
"spacing":{"row":0,"column":28},
"bounds":"flush",
"concat":[
 {"width":167,"height":95,"resolve":{"axis":{"x":"independent","y":"independent"}},"layer":[
  {"data":{"name":"pts"},"transform":[{"filter":"datum.b=='L1'"}],"mark":{"type":"errorbar","color":"#2a4dff","thickness":1.2},
   "encoding":{"x":{"field":"t","type":"quantitative","scale":{"domain":[0,0.08],"nice":false,"zero":false},"axis":{"orient":"top","values":[0.02,0.04,0.06],"labels":false,"title":null}},
   "y":{"field":"v","type":"quantitative","scale":{"domain":[-0.22,0.81],"nice":false,"zero":false},"axis":{"values":[0,0.25,0.5,0.75],"labelExpr":"datum.value==0?'0':(datum.value==0.5?'0.5':'')","title":null}},
   "yError":{"field":"e"}}},
  {"data":{"name":"pts"},"transform":[{"filter":"datum.b=='L1'"}],"mark":{"type":"point","shape":"circle","filled":false,"color":"#2a4dff","size":28,"strokeWidth":1.5},
   "encoding":{"x":{"field":"t","type":"quantitative","axis":null},"y":{"field":"v","type":"quantitative","axis":{"orient":"right","values":[0,0.25,0.5,0.75],"labels":false,"title":null}}}},
  {"data":{"name":"fit"},"transform":[{"filter":"datum.b=='L1' && datum.m=='r'"}],"mark":{"type":"line","color":"#ee1111","strokeWidth":1.6,"interpolate":"monotone"},"encoding":{"x":{"field":"t","type":"quantitative","axis":null},"y":{"field":"v","type":"quantitative","axis":null}}},
  {"data":{"name":"fit"},"transform":[{"filter":"datum.b=='L1' && datum.m=='g'"}],"mark":{"type":"line","color":"#77dd22","strokeWidth":1.6,"strokeDash":[5,3],"interpolate":"monotone"},"encoding":{"x":{"field":"t","type":"quantitative","axis":null},"y":{"field":"v","type":"quantitative","axis":null}}},
  {"data":{"name":"lab"},"transform":[{"filter":"datum.b=='L1' && datum.k=='c'"}],"mark":{"type":"text","fontSize":16,"align":"center","baseline":"middle","color":"#000"},"encoding":{"x":{"field":"t","type":"quantitative","axis":null},"y":{"field":"v","type":"quantitative","axis":null},"text":{"field":"s"}}},
  {"data":{"name":"lab"},"transform":[{"filter":"datum.b=='L1' && datum.k=='r'"}],"mark":{"type":"text","fontSize":16,"align":"right","baseline":"middle","color":"#000"},"encoding":{"x":{"field":"t","type":"quantitative","axis":null},"y":{"field":"v","type":"quantitative","axis":null},"text":{"field":"s"}}}
 ]},
 {"width":167,"height":95,"resolve":{"axis":{"x":"independent","y":"independent"}},"layer":[
  {"data":{"name":"pts"},"transform":[{"filter":"datum.b=='R1'"}],"mark":{"type":"errorbar","color":"#2a4dff","thickness":1.2},
   "encoding":{"x":{"field":"t","type":"quantitative","scale":{"domain":[0,3.5],"nice":false,"zero":false},"axis":{"orient":"top","values":[1,2,3],"labels":false,"title":null}},
   "y":{"field":"v","type":"quantitative","scale":{"domain":[0,0.405],"nice":false,"zero":false},"axis":{"values":[0,0.1,0.2,0.3,0.4],"labelExpr":"datum.value==0?'0':(datum.value==0.2?'0.2':(datum.value==0.4?'0.4':''))","title":null}},
   "yError":{"field":"e"}}},
  {"data":{"name":"pts"},"transform":[{"filter":"datum.b=='R1'"}],"mark":{"type":"point","shape":"circle","filled":false,"color":"#2a4dff","size":28,"strokeWidth":1.5},
   "encoding":{"x":{"field":"t","type":"quantitative","axis":null},"y":{"field":"v","type":"quantitative","axis":{"orient":"right","values":[0,0.05,0.1,0.15,0.2,0.25,0.3,0.35],"labels":false,"title":null}}}},
  {"data":{"name":"fit"},"transform":[{"filter":"datum.b=='R1' && datum.m=='r'"}],"mark":{"type":"line","color":"#ee1111","strokeWidth":1.6,"interpolate":"monotone"},"encoding":{"x":{"field":"t","type":"quantitative","axis":null},"y":{"field":"v","type":"quantitative","axis":null}}},
  {"data":{"name":"fit"},"transform":[{"filter":"datum.b=='R1' && datum.m=='g'"}],"mark":{"type":"line","color":"#77dd22","strokeWidth":1.6,"strokeDash":[5,3],"interpolate":"monotone"},"encoding":{"x":{"field":"t","type":"quantitative","axis":null},"y":{"field":"v","type":"quantitative","axis":null}}},
  {"data":{"name":"lab"},"transform":[{"filter":"datum.b=='R1' && datum.k=='c'"}],"mark":{"type":"text","fontSize":16,"align":"center","baseline":"middle","color":"#000"},"encoding":{"x":{"field":"t","type":"quantitative","axis":null},"y":{"field":"v","type":"quantitative","axis":null},"text":{"field":"s"}}}
 ]},
 {"width":167,"height":95,"resolve":{"axis":{"x":"independent","y":"independent"}},"layer":[
  {"data":{"name":"pts"},"transform":[{"filter":"datum.b=='L2'"}],"mark":{"type":"errorbar","color":"#2a4dff","thickness":1.2},
   "encoding":{"x":{"field":"t","type":"quantitative","scale":{"domain":[0,0.08],"nice":false,"zero":false},"axis":null},
   "y":{"field":"v","type":"quantitative","scale":{"domain":[-0.22,0.81],"nice":false,"zero":false},"axis":{"values":[0,0.25,0.5,0.75],"labelExpr":"datum.value==0?'0':(datum.value==0.5?'0.5':'')","title":"Polarization","titlePadding":6,"titleY":34}},
   "yError":{"field":"e"}}},
  {"data":{"name":"pts"},"transform":[{"filter":"datum.b=='L2'"}],"mark":{"type":"point","shape":"circle","filled":false,"color":"#2a4dff","size":28,"strokeWidth":1.5},
   "encoding":{"x":{"field":"t","type":"quantitative","axis":null},"y":{"field":"v","type":"quantitative","axis":{"orient":"right","values":[0,0.25,0.5,0.75],"labels":false,"title":null}}}},
  {"data":{"name":"fit"},"transform":[{"filter":"datum.b=='L2' && datum.m=='r'"}],"mark":{"type":"line","color":"#ee1111","strokeWidth":1.6,"interpolate":"monotone"},"encoding":{"x":{"field":"t","type":"quantitative","axis":null},"y":{"field":"v","type":"quantitative","axis":null}}},
  {"data":{"name":"fit"},"transform":[{"filter":"datum.b=='L2' && datum.m=='g'"}],"mark":{"type":"line","color":"#77dd22","strokeWidth":1.6,"strokeDash":[5,3],"interpolate":"monotone"},"encoding":{"x":{"field":"t","type":"quantitative","axis":null},"y":{"field":"v","type":"quantitative","axis":null}}},
  {"data":{"name":"lab"},"transform":[{"filter":"datum.b=='L2' && datum.k=='r'"}],"mark":{"type":"text","fontSize":16,"align":"right","baseline":"middle","color":"#000"},"encoding":{"x":{"field":"t","type":"quantitative","axis":null},"y":{"field":"v","type":"quantitative","axis":null},"text":{"field":"s"}}}
 ]},
 {"width":167,"height":95,"resolve":{"axis":{"x":"independent","y":"independent"}},"layer":[
  {"data":{"name":"pts"},"transform":[{"filter":"datum.b=='R2'"}],"mark":{"type":"errorbar","color":"#2a4dff","thickness":1.2},
   "encoding":{"x":{"field":"t","type":"quantitative","scale":{"domain":[0,3.5],"nice":false,"zero":false},"axis":null},
   "y":{"field":"v","type":"quantitative","scale":{"domain":[0,0.405],"nice":false,"zero":false},"axis":{"values":[0,0.1,0.2,0.3],"labelExpr":"datum.value==0?'0':(datum.value==0.2?'0.2':'')","title":null}},
   "yError":{"field":"e"}}},
  {"data":{"name":"pts"},"transform":[{"filter":"datum.b=='R2'"}],"mark":{"type":"point","shape":"circle","filled":false,"color":"#2a4dff","size":28,"strokeWidth":1.5},
   "encoding":{"x":{"field":"t","type":"quantitative","axis":null},"y":{"field":"v","type":"quantitative","axis":{"orient":"right","values":[0,0.05,0.1,0.15,0.2,0.25,0.3,0.35],"labels":false,"title":null}}}},
  {"data":{"name":"fit"},"transform":[{"filter":"datum.b=='R2' && datum.m=='r'"}],"mark":{"type":"line","color":"#ee1111","strokeWidth":1.6,"interpolate":"monotone"},"encoding":{"x":{"field":"t","type":"quantitative","axis":null},"y":{"field":"v","type":"quantitative","axis":null}}},
  {"data":{"name":"fit"},"transform":[{"filter":"datum.b=='R2' && datum.m=='g'"}],"mark":{"type":"line","color":"#77dd22","strokeWidth":1.6,"strokeDash":[5,3],"interpolate":"monotone"},"encoding":{"x":{"field":"t","type":"quantitative","axis":null},"y":{"field":"v","type":"quantitative","axis":null}}},
  {"data":{"name":"lab"},"transform":[{"filter":"datum.b=='R2' && datum.k=='c'"}],"mark":{"type":"text","fontSize":17,"align":"center","baseline":"middle","color":"#000"},"encoding":{"x":{"field":"t","type":"quantitative","axis":null},"y":{"field":"v","type":"quantitative","axis":null},"text":{"field":"s"}}}
 ]},
 {"width":167,"height":95,"resolve":{"axis":{"x":"independent","y":"independent"}},"layer":[
  {"data":{"name":"pts"},"transform":[{"filter":"datum.b=='L3'"}],"mark":{"type":"errorbar","color":"#2a4dff","thickness":1.2},
   "encoding":{"x":{"field":"t","type":"quantitative","scale":{"domain":[0,0.08],"nice":false,"zero":false},"axis":{"orient":"bottom","values":[0,0.02,0.04,0.06,0.08],"labelExpr":"datum.value==0?'0':format(datum.value,'.2f')","title":null}},
   "y":{"field":"v","type":"quantitative","scale":{"domain":[-0.22,0.81],"nice":false,"zero":false},"axis":{"values":[0,0.25,0.5,0.75],"labelExpr":"datum.value==0?'0':(datum.value==0.5?'0.5':'')","title":null}},
   "yError":{"field":"e"}}},
  {"data":{"name":"pts"},"transform":[{"filter":"datum.b=='L3'"}],"mark":{"type":"point","shape":"circle","filled":false,"color":"#2a4dff","size":28,"strokeWidth":1.5},
   "encoding":{"x":{"field":"t","type":"quantitative","axis":null},"y":{"field":"v","type":"quantitative","axis":{"orient":"right","values":[0,0.25,0.5,0.75],"labels":false,"title":null}}}},
  {"data":{"name":"fit"},"transform":[{"filter":"datum.b=='L3' && datum.m=='r'"}],"mark":{"type":"line","color":"#ee1111","strokeWidth":1.6,"interpolate":"monotone"},"encoding":{"x":{"field":"t","type":"quantitative","axis":null},"y":{"field":"v","type":"quantitative","axis":null}}},
  {"data":{"name":"fit"},"transform":[{"filter":"datum.b=='L3' && datum.m=='g'"}],"mark":{"type":"line","color":"#77dd22","strokeWidth":1.6,"strokeDash":[5,3],"interpolate":"monotone"},"encoding":{"x":{"field":"t","type":"quantitative","axis":null},"y":{"field":"v","type":"quantitative","axis":null}}},
  {"data":{"name":"lab"},"transform":[{"filter":"datum.b=='L3' && datum.k=='r'"}],"mark":{"type":"text","fontSize":16,"align":"right","baseline":"middle","color":"#000"},"encoding":{"x":{"field":"t","type":"quantitative","axis":null},"y":{"field":"v","type":"quantitative","axis":null},"text":{"field":"s"}}}
 ]},
 {"width":167,"height":95,"resolve":{"axis":{"x":"independent","y":"independent"}},"layer":[
  {"data":{"name":"pts"},"transform":[{"filter":"datum.b=='R3'"}],"mark":{"type":"errorbar","color":"#2a4dff","thickness":1.2},
   "encoding":{"x":{"field":"t","type":"quantitative","scale":{"domain":[0,3.5],"nice":false,"zero":false},"axis":{"orient":"bottom","values":[0,1,2,3],"format":"d","title":"t [\u03bcs]","titleX":-12,"titlePadding":4}},
   "y":{"field":"v","type":"quantitative","scale":{"domain":[0,0.405],"nice":false,"zero":false},"axis":{"values":[0,0.1,0.2,0.3],"labelExpr":"datum.value==0?'0':(datum.value==0.2?'0.2':'')","title":null}},
   "yError":{"field":"e"}}},
  {"data":{"name":"pts"},"transform":[{"filter":"datum.b=='R3'"}],"mark":{"type":"point","shape":"circle","filled":false,"color":"#2a4dff","size":28,"strokeWidth":1.5},
   "encoding":{"x":{"field":"t","type":"quantitative","axis":null},"y":{"field":"v","type":"quantitative","axis":{"orient":"right","values":[0,0.05,0.1,0.15,0.2,0.25,0.3,0.35],"labels":false,"title":null}}}},
  {"data":{"name":"fit"},"transform":[{"filter":"datum.b=='R3' && datum.m=='r'"}],"mark":{"type":"line","color":"#ee1111","strokeWidth":1.6,"interpolate":"monotone"},"encoding":{"x":{"field":"t","type":"quantitative","axis":null},"y":{"field":"v","type":"quantitative","axis":null}}},
  {"data":{"name":"fit"},"transform":[{"filter":"datum.b=='R3' && datum.m=='g'"}],"mark":{"type":"line","color":"#77dd22","strokeWidth":1.6,"strokeDash":[5,3],"interpolate":"monotone"},"encoding":{"x":{"field":"t","type":"quantitative","axis":null},"y":{"field":"v","type":"quantitative","axis":null}}}
 ]}
]
}
